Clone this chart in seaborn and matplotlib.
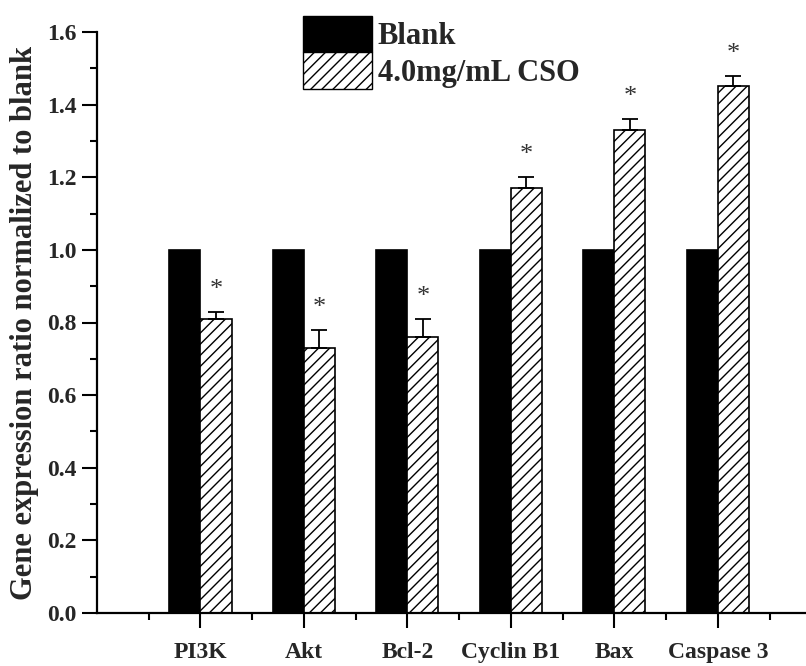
import numpy as np
import pandas as pd
import matplotlib
matplotlib.use("Agg")
import matplotlib.pyplot as plt
from matplotlib.ticker import MultipleLocator, FixedLocator
from matplotlib.patches import Patch
import seaborn as sns

genes = ["PI3K", "Akt", "Bcl-2", "Cyclin B1", "Bax", "Caspase 3"]
groups = ["Blank", "4.0mg/mL CSO"]
blank_vals = [1.0, 1.0, 1.0, 1.0, 1.0, 1.0]
cso_vals = [0.81, 0.73, 0.76, 1.17, 1.33, 1.45]
cso_err = [0.02, 0.05, 0.05, 0.03, 0.03, 0.03]
yticks = [0.0, 0.2, 0.4, 0.6, 0.8, 1.0, 1.2, 1.4, 1.6]

sns.set_style("ticks")
plt.rcParams["font.family"] = ["Liberation Serif", "DejaVu Serif"]
plt.rcParams["hatch.linewidth"] = 1.0
plt.rcParams["hatch.color"] = "black"

df = pd.DataFrame({
    "gene": genes * 2,
    "group": [groups[0]] * len(genes) + [groups[1]] * len(genes),
    "value": blank_vals + cso_vals,
})

fig = plt.figure(figsize=(8.06, 6.66), dpi=100)
ax = fig.add_axes([97 / 806, 53 / 666, 1 - 97 / 806 + 0.01, 581 / 666])

sns.barplot(data=df, x="gene", y="value", hue="group", order=genes,
            hue_order=groups, palette=["black", "white"], width=0.6,
            edgecolor="black", linewidth=1.2, errorbar=None, ax=ax,
            legend=False)

# hatch the CSO bars
for i, bar in enumerate(ax.patches):
    if i >= len(genes):
        bar.set_hatch("///")
        bar.set_facecolor("white")

xs = np.arange(len(genes))
ax.errorbar(xs + 0.15, cso_vals, yerr=[np.zeros(len(genes)), cso_err],
            fmt="none", ecolor="black", elinewidth=1.3, capsize=6,
            capthick=1.3, zorder=1)

for x, v, e in zip(xs, cso_vals, cso_err):
    ax.text(x + 0.15, v + e + 0.03, "*", ha="center", va="bottom",
            fontsize=19, color="#333333")

ax.set_xlim(-1, 5.93)
ax.set_ylim(0, 1.6)
ax.set_yticks(yticks)
ax.set_yticklabels([f"{t:.1f}" for t in yticks])
ax.yaxis.set_minor_locator(MultipleLocator(0.1))
ax.xaxis.set_minor_locator(FixedLocator(np.arange(-0.5, 6.0, 1.0)))

sns.despine(ax=ax, top=True, right=True)
for s in ["left", "bottom"]:
    ax.spines[s].set_linewidth(1.6)
    ax.spines[s].set_color("black")

ax.tick_params(axis="both", which="major", direction="out", length=11,
               width=1.5, color="black")
ax.tick_params(axis="both", which="minor", direction="out", length=5,
               width=1.5, color="black")
ax.tick_params(axis="x", which="major", pad=10)

for lab in ax.get_yticklabels():
    lab.set_fontsize(17)
    lab.set_fontweight("bold")
for lab in ax.get_xticklabels():
    lab.set_fontsize(17)
    lab.set_fontweight("bold")

ax.set_xlabel("")
ax.set_ylabel("Gene expression ratio normalized to blank", fontsize=22,
              fontweight="bold", labelpad=6)

handles = [Patch(facecolor="black", edgecolor="black", label=groups[0]),
           Patch(facecolor="white", edgecolor="black", hatch="///",
                 label=groups[1])]
fig.legend(handles=handles, loc="upper left",
           bbox_to_anchor=(303 / 806, 1 - 16 / 666), frameon=False,
           prop={"family": "Liberation Serif", "weight": "bold", "size": 22},
           handlelength=2.25, handleheight=1.45, handletextpad=0.2,
           labelspacing=0.0, borderpad=0, borderaxespad=0)

fig.savefig("out.png", dpi=100)
